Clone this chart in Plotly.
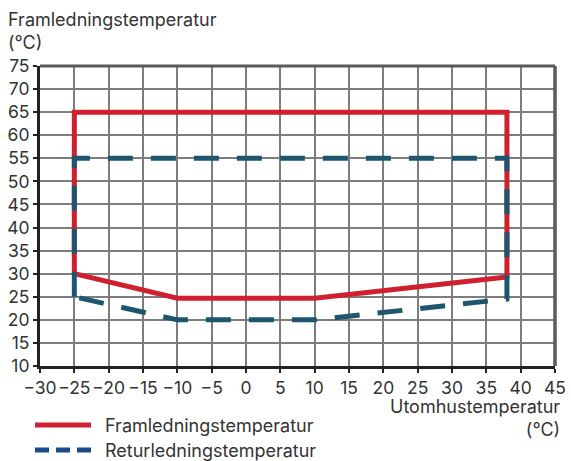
import plotly.graph_objects as go

# Data
fram_x = [-25, -25, 38, 38, 10, -10, -25]
fram_y = [30, 65, 65, 29.3, 24.7, 24.7, 30]
retur_x = [-25, -25, 38, 38, 10, -10, -25]
retur_y = [25, 55, 55, 24.5, 20, 20, 25]

x_ticks = list(range(-30, 46, 5))
y_ticks = list(range(10, 76, 5))

series_names = ["Framledningstemperatur", "Returledningstemperatur"]
y_title = "Framledningstemperatur<br>(°C)"
x_title = "Utomhustemperatur<br>(°C)"

RED = "#cf2030"
BLUE = "#1e5670"
LEG_BLUE = "#1b4a8a"
TXT = "#333333"
FONT = "Inter, Roboto, sans-serif"
FS = 18
TFS = 17.5

fig = go.Figure()
fig.add_trace(go.Scatter(x=fram_x, y=fram_y, mode="lines", name=series_names[0],
                         line=dict(color=RED, width=5), showlegend=False))
fig.add_trace(go.Scatter(x=retur_x, y=retur_y, mode="lines", name=series_names[1],
                         line=dict(color=BLUE, width=5, dash="25px,18px"), showlegend=False))

L, R, T, B = 40, 16, 66, 95
W, H = 571, 461
pw, ph = W - L - R, H - T - B

def px(xp):
    return (xp - L) / pw

def py(yp):
    return (H - B - yp) / ph

axis_common = dict(
    showgrid=True, gridcolor="#7d7d7d", gridwidth=1.5,
    showline=True, linecolor="#222222", linewidth=3,
    ticks="outside", ticklen=4, tickcolor="#222222", tickwidth=1.5,
    tickfont=dict(size=TFS, color=TXT, family=FONT),
    zeroline=False, fixedrange=True, tickangle=0,
)
fig.update_xaxes(range=[-30, 45], tickvals=x_ticks, **axis_common)
fig.update_yaxes(range=[10, 75], tickvals=y_ticks, **axis_common)

shapes = [
    dict(type="line", xref="paper", yref="paper", x0=0, x1=1, y0=1, y1=1,
         line=dict(color="#5a5a5a", width=3), layer="above"),
    dict(type="line", xref="paper", yref="paper", x0=1, x1=1, y0=0, y1=1,
         line=dict(color="#5a5a5a", width=3.5), layer="above"),
    # legend symbols
    dict(type="line", xref="paper", yref="paper", x0=px(35), x1=px(91), y0=py(425), y1=py(425),
         line=dict(color=RED, width=5)),
    dict(type="line", xref="paper", yref="paper", x0=px(35), x1=px(91), y0=py(450), y1=py(450),
         line=dict(color=LEG_BLUE, width=5, dash="14px,7px")),
]

annotations = [
    dict(text=y_title, xref="paper", yref="paper", x=px(6), y=py(7), xanchor="left", yanchor="top",
         align="left", showarrow=False, font=dict(size=FS, color=TXT, family=FONT)),
    dict(text=x_title, xref="paper", yref="paper", x=px(562), y=py(394), xanchor="right", yanchor="top",
         align="right", showarrow=False, font=dict(size=FS, color=TXT, family=FONT)),
    dict(text=series_names[0], xref="paper", yref="paper", x=px(103), y=py(425), xanchor="left", yanchor="middle",
         showarrow=False, font=dict(size=FS, color=TXT, family=FONT)),
    dict(text=series_names[1], xref="paper", yref="paper", x=px(103), y=py(450), xanchor="left", yanchor="middle",
         showarrow=False, font=dict(size=FS, color=TXT, family=FONT)),
]

fig.update_layout(
    width=W, height=H,
    margin=dict(l=L, r=R, t=T, b=B, autoexpand=False),
    paper_bgcolor="white", plot_bgcolor="white",
    shapes=shapes, annotations=annotations,
    font=dict(family=FONT, color=TXT),
    showlegend=False,
)

fig.write_html("out.html", config={"displayModeBar": False},
               post_script="document.body.style.margin='0';document.body.style.overflow='hidden';")
